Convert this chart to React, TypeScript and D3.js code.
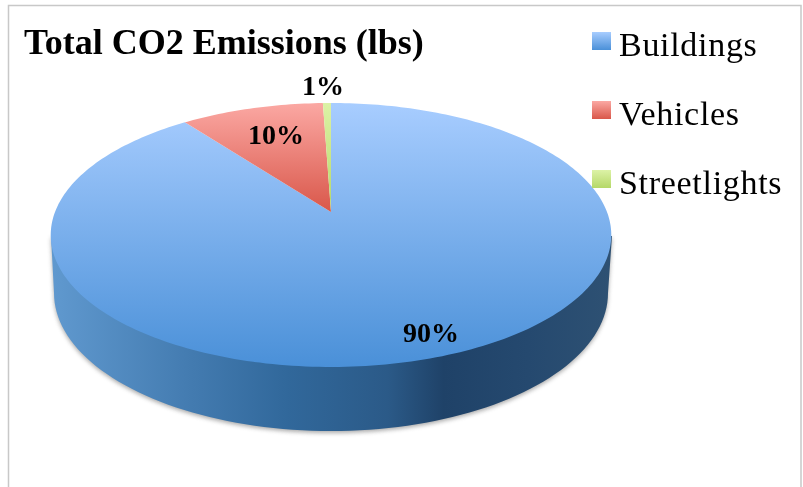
import * as d3 from "d3"

const categories = ["Buildings", "Vehicles", "Streetlights"]
const shares = [89.7, 9.75, 0.55]
const sliceLabels = ["90%", "10%", "1%"]

const topColors = ["#a8cdff", "#fba8a3", "#dcf2a6"]
const bottomColors = ["#4a90d8", "#d9574a", "#b5d868"]

const W = 803
const H = 487

// the pie is drawn in perspective: its centre sits above the middle of the ellipse
const apex = { x: 331, y: 212 }
const spreadX = 276
const spreadY = 128
const skew = 0.174

function project(angle: number): [number, number] {
  const X = Math.sin(angle)
  const Y = Math.cos(angle)
  const d = 1 + skew * Y
  return [apex.x + (spreadX * X) / d, apex.y - (spreadY * Y) / d]
}

const pieGen = d3.pie<number>().sort(null)

const arcs = pieGen(shares)

function slicePath(start: number, end: number) {
  const steps = Math.max(2, Math.ceil(Math.abs(end - start) / 0.02))
  const scale = d3.scaleLinear().domain([0, steps]).range([start, end])
  const pts: [number, number][] = [[apex.x, apex.y]]
  d3.range(steps + 1).forEach((i) => pts.push(project(scale(i))))
  return d3.line().curve(d3.curveLinearClosed)(pts) as string
}

// side wall: top rim extremes joined to the lower half of the base ellipse
const base = { cx: 331, cy: 293, rx: 277, ry: 138 }
const wallPts: [number, number][] = [[51, 236]]
d3.range(0, 181, 2).forEach((deg) => {
  const a = (deg * Math.PI) / 180
  wallPts.push([base.cx - base.rx * Math.cos(a), base.cy + base.ry * Math.sin(a)])
})
wallPts.push([612, 236])
const wallPath = d3.line().curve(d3.curveLinearClosed)(wallPts) as string

const wallStops: [number, string][] = [
  [0, "#6099cf"],
  [0.25, "#437bb0"],
  [0.42, "#31689b"],
  [0.6, "#2b5a88"],
  [0.7, "#1f4268"],
  [0.85, "#25496f"],
  [1, "#2e5173"],
]

const legendY = d3.scalePoint<string>().domain(categories).range([41, 179])

const labelPos = [
  { x: 431, y: 342 },
  { x: 276, y: 144 },
  { x: 323, y: 95 },
]

export default function App() {
  const serif = "'Liberation Serif', serif"
  return (
    <svg
      width={W}
      height={H}
      viewBox={`0 0 ${W} ${H}`}
      style={{ position: "absolute", left: 0, top: 0, background: "#fff" }}
    >
      <defs>
        <linearGradient id="wall" x1="0" x2="1" y1="0" y2="0">
          {wallStops.map(([o, c]) => (
            <stop key={o} offset={o} stopColor={c} />
          ))}
        </linearGradient>
        {categories.map((c, i) => (
          <linearGradient key={c} id={`fill${i}`} x1="0" x2="0" y1="0" y2="1">
            <stop offset="0" stopColor={topColors[i]} />
            <stop offset="1" stopColor={bottomColors[i]} />
          </linearGradient>
        ))}
        <filter id="soft" x="-5%" y="-5%" width="110%" height="110%">
          <feGaussianBlur stdDeviation="2" />
        </filter>
        <filter id="textSoft">
          <feGaussianBlur stdDeviation="0.4" />
        </filter>
      </defs>

      <path d={`M8.5 487V5.5H801V487`} fill="none" stroke="#c8c8c8" strokeWidth={1.5} />

      <path d={wallPath} fill="#666" opacity={0.55} filter="url(#soft)" transform="translate(0,2)" />
      <path d={wallPath} fill="url(#wall)" />

      {arcs.map((a, i) => (
        <path key={categories[i]} d={slicePath(a.startAngle, a.endAngle)} fill={`url(#fill${i})`} />
      ))}

      <g filter="url(#textSoft)">
        <text x={24} y={54} fontFamily={serif} fontWeight={700} fontSize={36} fill="#000">
          Total CO2 Emissions (lbs)
        </text>

        {arcs.map((a, i) => (
          <text
            key={sliceLabels[i]}
            x={labelPos[i].x}
            y={labelPos[i].y}
            textAnchor="middle"
            fontFamily={serif}
            fontWeight={700}
            fontSize={28}
            fill="#000"
          >
            {sliceLabels[i]}
          </text>
        ))}

        {categories.map((c) => (
          <text key={c} x={619} y={(legendY(c) as number) + 14.5} fontFamily={serif} fontSize={34} letterSpacing={0.7} fill="#000">
            {c}
          </text>
        ))}
      </g>

      {categories.map((c, i) => (
        <rect
          key={c}
          x={592}
          y={(legendY(c) as number) - 9}
          width={19}
          height={18}
          fill={`url(#fill${i})`}
        />
      ))}
    </svg>
  )
}
